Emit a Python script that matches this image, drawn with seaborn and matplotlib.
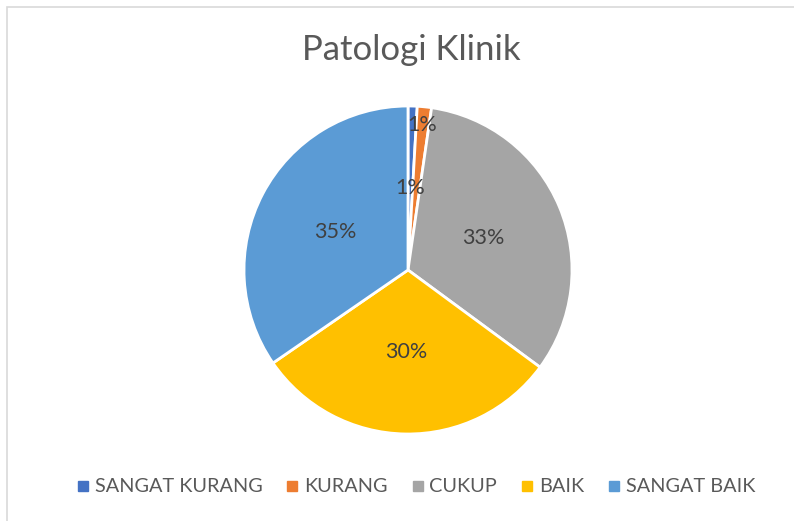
import numpy as np
import seaborn as sns
import matplotlib.pyplot as plt
from matplotlib.lines import Line2D
from matplotlib.patches import Rectangle

categories = ["SANGAT KURANG", "KURANG", "CUKUP", "BAIK", "SANGAT BAIK"]
values = [0.9, 1.4, 32.8, 30.3, 34.6]
colors = ["#4472C4", "#ED7D31", "#A5A5A5", "#FFC000", "#5B9BD5"]
title = "Patologi Klinik"

sns.set_theme(style="white")
plt.rcParams['font.family'] = ['Lato', 'DejaVu Sans']

W, H = 794, 521
fig = plt.figure(figsize=(W / 100, H / 100), dpi=100)

# chart box border (cropped on right and bottom)
fig.add_artist(Rectangle((7 / W, -0.1), 1.2, 1 - 7 / H + 0.1, transform=fig.transFigure,
                         fill=False, edgecolor="#D9D9D9", linewidth=1.2))

# pie axes: centre (408, 270), radius 164 px
cx, cy, r = 408, 270, 164
pad = 1.03
ax = fig.add_axes([(cx - r * pad) / W, (H - cy - r * pad) / H,
                   2 * r * pad / W, 2 * r * pad / H])
palette = sns.color_palette(colors)
wedges, texts, autotexts = ax.pie(
    values, colors=palette, startangle=90, counterclock=False,
    autopct='%1.0f%%', pctdistance=0.5,
    wedgeprops=dict(edgecolor="white", linewidth=2),
    textprops=dict(color="#404040", fontsize=15.5))
ax.set_xlim(-pad, pad)
ax.set_ylim(-pad, pad)
ax.axis('off')

# second small slice label pushed outward (best fit)
w = wedges[1]
mid = np.deg2rad((w.theta1 + w.theta2) / 2)
autotexts[1].set_position((0.89 * np.cos(mid), 0.89 * np.sin(mid)))

fig.text(411 / W, 1 - 50 / H, title, ha="center", va="center",
         fontsize=25, color="#595959")

handles = [Line2D([], [], marker="s", linestyle="", markersize=7,
                  markerfacecolor=c, markeredgecolor=c) for c in colors]
fig.legend(handles, categories, loc="center", bbox_to_anchor=(416 / W, 1 - 487 / H),
           ncol=5, frameon=False, fontsize=14.3, labelcolor="#595959",
           handlelength=0.6, handletextpad=0.3, columnspacing=1.2)

fig.savefig("out.png", dpi=100)
